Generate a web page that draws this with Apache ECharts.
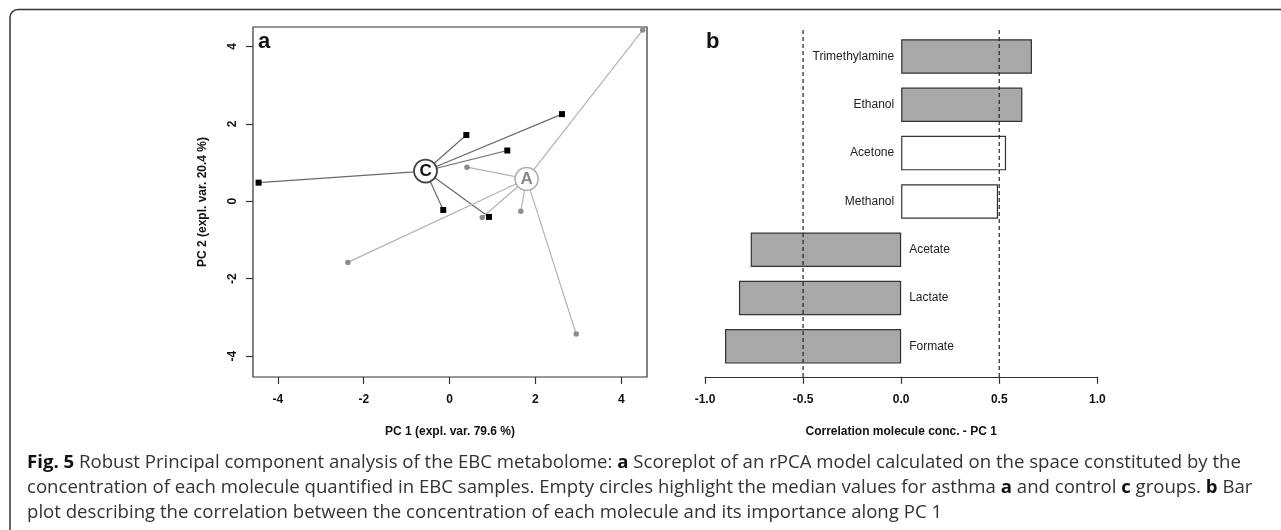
<!DOCTYPE html>
<html><head><meta charset="utf-8">
<script src="https://cdn.jsdelivr.net/npm/echarts@6/dist/echarts.min.js"></script>
<style>html,body{margin:0;padding:0;background:#fff}#c{width:1281px;height:530px}</style>
</head><body><div id="c"></div>
<script>
// ---- data ----
const controlPoints = [[-4.45,0.48],[0.39,1.71],[2.62,2.25],[1.345,1.31],[-0.147,-0.225],[0.918,-0.405]];
const asthmaPoints = [[4.50,4.42],[0.405,0.88],[0.76,-0.42],[1.66,-0.26],[-2.37,-1.58],[2.95,-3.43]];
const controlMedian = [-0.56,0.78];
const asthmaMedian = [1.795,0.576];
const pcTicks = [-4,-2,0,2,4];
const molecules = ['Trimethylamine','Ethanol','Acetone','Methanol','Acetate','Lactate','Formate'];
const correlations = [0.667,0.618,0.535,0.494,-0.767,-0.827,-0.898];
const significant = [true,true,false,false,true,true,true];
const corrTicks = [-1,-0.5,0,0.5,1];
const thresholds = [-0.5,0.5];
const captionLines = [
  '{b|Fig. 5}{n| Robust Principal component analysis of the EBC metabolome: }{b|a}{n| Scoreplot of an rPCA model calculated on the space constituted by the}',
  '{n|concentration of each molecule quantified in EBC samples. Empty circles highlight the median values for asthma }{b|a}{n| and control }{b|c}{n| groups. }{b|b}{n| Bar}',
  '{n|plot describing the correlation between the concentration of each molecule and its importance along PC 1}'
];

// ---- chart ----
const FONT = '"Liberation Sans", Arial, Helvetica, sans-serif';
const CAPFONT = '"Open Sans", "Noto Sans", sans-serif';
const CAPSIZE = 18.6;
const chart = echarts.init(document.getElementById('c'));
const lab = {fontFamily: FONT, fontSize: 12, fontWeight: 'bold', color: '#111'};
const titleStyle = {fontFamily: FONT, fontSize: 12, fontWeight: 'bold', color: '#111'};

const option = {
  animation: false,
  backgroundColor: '#fff',
  grid: [
    {left: 253, top: 27, width: 394, height: 350, show: true, borderColor: '#333', borderWidth: 1.2, backgroundColor: 'transparent'},
    {left: 705, top: 32.35, width: 392.3, height: 338.15},
    {left: 705, top: 27, width: 392.3, height: 350}
  ],
  xAxis: [
    {gridIndex: 0, type: 'value', min: -4.58, max: 4.60,
     name: 'PC 1 (expl. var. 79.6 %)', nameLocation: 'middle', nameGap: 49, nameTextStyle: titleStyle,
     axisLine: {show: false, onZero: false},
     axisTick: {show: true, length: 7, customValues: pcTicks, lineStyle: {color: '#333', width: 1.2}},
     axisLabel: Object.assign({customValues: pcTicks, margin: 17}, lab),
     splitLine: {show: false}},
    {gridIndex: 1, type: 'value', min: -1, max: 1, interval: 0.5, offset: 6.3,
     name: 'Correlation molecule conc. - PC 1', nameLocation: 'middle', nameGap: 49, nameTextStyle: titleStyle,
     axisLine: {show: true, onZero: false, lineStyle: {color: '#333', width: 1.2}},
     axisTick: {show: true, length: 7, customValues: corrTicks, lineStyle: {color: '#333', width: 1.2}},
     axisLabel: Object.assign({customValues: corrTicks, margin: 17, formatter: v => Number(v).toFixed(1)}, lab),
     splitLine: {show: false}},
    {gridIndex: 2, type: 'value', min: -1, max: 1, show: false}
  ],
  yAxis: [
    {gridIndex: 0, type: 'value', min: -4.54, max: 4.50,
     name: 'PC 2 (expl. var. 20.4 %)', nameLocation: 'middle', nameRotate: 90, nameGap: 44, nameTextStyle: titleStyle,
     axisLine: {show: false, onZero: false},
     axisTick: {show: true, length: 7, customValues: pcTicks, lineStyle: {color: '#333', width: 1.2}},
     axisLabel: Object.assign({customValues: pcTicks, margin: 14, rotate: 90}, lab),
     splitLine: {show: false}},
    {gridIndex: 1, type: 'category', data: molecules, inverse: true, show: false},
    {gridIndex: 2, type: 'value', min: 0, max: 1, show: false}
  ],
  series: [
    {type: 'lines', coordinateSystem: 'cartesian2d', xAxisIndex: 0, yAxisIndex: 0, silent: true,
     data: controlPoints.map(p => ({coords: [controlMedian, p]})),
     lineStyle: {color: '#6a6a6a', width: 1.2, opacity: 1}, z: 2},
    {type: 'lines', coordinateSystem: 'cartesian2d', xAxisIndex: 0, yAxisIndex: 0, silent: true,
     data: asthmaPoints.map(p => ({coords: [asthmaMedian, p]})),
     lineStyle: {color: '#b3b3b3', width: 1.2, opacity: 1}, z: 2},
    {type: 'scatter', xAxisIndex: 0, yAxisIndex: 0, data: asthmaPoints, symbol: 'circle', symbolSize: 5.5,
     itemStyle: {color: '#8c8c8c', opacity: 1}, z: 3, silent: true},
    {type: 'scatter', xAxisIndex: 0, yAxisIndex: 0, data: controlPoints, symbol: 'rect', symbolSize: 6,
     itemStyle: {color: '#000', opacity: 1}, z: 4, silent: true},
    {type: 'scatter', xAxisIndex: 0, yAxisIndex: 0, symbol: 'circle', symbolSize: 23, z: 5, silent: true,
     data: [
       {value: controlMedian, name: 'C', itemStyle: {color: '#fff', borderColor: '#444', borderWidth: 1.8},
        label: {color: '#111'}},
       {value: asthmaMedian, name: 'A', itemStyle: {color: '#fff', borderColor: '#aaa', borderWidth: 1.5},
        label: {color: '#888'}}
     ],
     itemStyle: {opacity: 1},
     label: {show: true, position: 'inside', formatter: '{b}', fontFamily: FONT, fontSize: 17, fontWeight: 'bold'}},
    {type: 'bar', xAxisIndex: 1, yAxisIndex: 1, barWidth: 34.5, silent: true,
     data: correlations.map((v, i) => ({
       value: v,
       itemStyle: {color: significant[i] ? '#a8a8a8' : '#fff'},
       label: {position: v >= 0 ? 'left' : 'right', distance: v >= 0 ? 7 : 8}
     })),
     itemStyle: {borderColor: '#333', borderWidth: 1.2},
     label: {show: true, formatter: p => p.name, fontFamily: FONT, fontSize: 12, color: '#222'}, z: 2}
  ].concat(thresholds.map(t => ({
    type: 'line', xAxisIndex: 2, yAxisIndex: 2, data: [[t, 0], [t, 1]], symbol: 'none', silent: true,
    lineStyle: {type: [4, 3], color: '#222', width: 1.2}, z: 6
  }))),
  graphic: [
    {type: 'rect', shape: {x: 10, y: 9.5, width: 1400, height: 700, r: 8}, style: {fill: 'none', stroke: '#333', lineWidth: 1.5}, silent: true},
    {type: 'text', x: 258, y: 42, style: {text: 'a', fontFamily: FONT, fontSize: 22, fontWeight: 'bold', fill: '#111', verticalAlign: 'middle'}},
    {type: 'text', x: 706, y: 42, style: {text: 'b', fontFamily: FONT, fontSize: 22, fontWeight: 'bold', fill: '#111', verticalAlign: 'middle'}}
  ].concat(captionLines.map((t, i) => ({
    type: 'text', x: 27, y: 462.5 + i * 25,
    style: {text: t, verticalAlign: 'middle', align: 'left',
      rich: {
        b: {fontFamily: CAPFONT, fontSize: CAPSIZE, fontWeight: 'bold', fill: '#111'},
        n: {fontFamily: CAPFONT, fontSize: CAPSIZE, fontWeight: 'normal', fill: '#333'}
      }}
  })))
};
chart.setOption(option);
</script></body></html>
